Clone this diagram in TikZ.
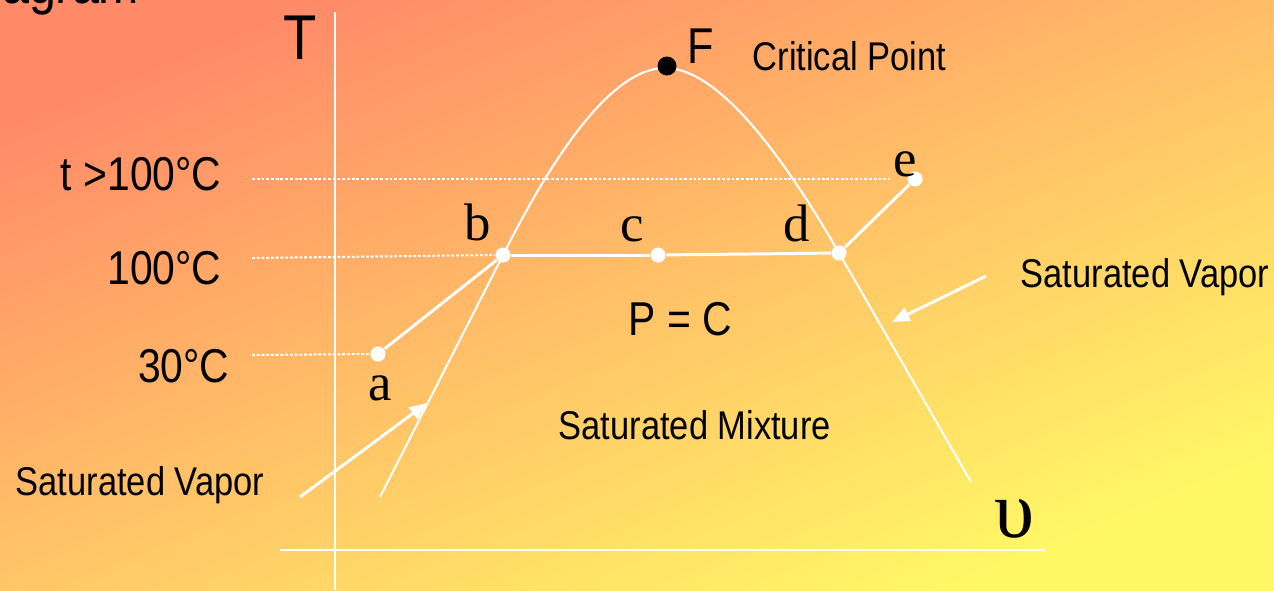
\documentclass[tikz,border=0pt]{standalone}
\usepackage{fontspec}
\setmainfont{Liberation Serif}
\newfontfamily\labfont[FakeStretch=0.86]{Liberation Sans}
\usetikzlibrary{arrows.meta,positioning}
\definecolor{salmon}{RGB}{255,138,104}
\definecolor{amber}{RGB}{255,210,98}
\definecolor{lemon}{RGB}{255,248,102}

\begin{document}
\begin{tikzpicture}[x=0.01cm,y=-0.01cm,
  lab/.style={font=\labfont\fontsize{11.4}{13}\selectfont, inner sep=0pt, anchor=base west},
  temp/.style={font=\labfont\fontsize{13.5}{16}\selectfont, inner sep=0pt, anchor=base east},
  ltr/.style={font=\fontsize{15}{18}\selectfont, inner sep=0pt, anchor=base},
  wdot/.style={circle, fill=white, inner sep=0pt, minimum size=4.3pt},
  proc/.style={white, line width=0.85pt},
  dome/.style={white, line width=0.6pt},
  guide/.style={white, line width=0.57pt, dash pattern=on 0.8pt off 0.55pt},
  arr/.style={white, line width=0.85pt, -{Triangle[length=5pt,width=4pt]}}]
\shade[left color=salmon, middle color=amber, right color=lemon, shading angle=22] (0,0) rectangle (1274,590);
\useasboundingbox (0,0) rectangle (1274,590);
\node[lab, font=\labfont\fontsize{16}{19}\selectfont, anchor=base east] (ttl) at (140,3) {Diagram};
\coordinate (ytop) at (335,12);
\coordinate (ybot) at (335,590);
\coordinate (xl) at (280,550);
\coordinate (xr) at (1045,550);
\draw[dome] (ybot) -- (ytop);
\draw[dome] (xl) -- (xr);
\node[lab, font=\labfont\fontsize{18}{21}\selectfont] (T) at (283,59) {T};
\node[ltr, font=\fontsize{23}{26}\selectfont] (v) at (1014,537) {υ};
\node[wdot] (pa) at (378,354) {};
\node[wdot] (pb) at (503,255) {};
\node[wdot] (pc) at (658,255) {};
\node[wdot] (pd) at (839,253) {};
\node[wdot] (pe) at (915,179) {};
\node[ltr] (la) at (380,400) {a};
\node[ltr] (lb) at (478,240) {b};
\node[ltr] (lc) at (632,241) {c};
\node[ltr] (ld) at (797,241) {d};
\node[ltr] (le) at (905,176) {e};
\node[temp] (t3) at (222,190) {t >100°C};
\node[temp] (t2) at (222,284) {100°C};
\node[temp] (t1) at (230,382) {30°C};
\coordinate (g3) at (252,179);
\coordinate (g3e) at (890,179);
\coordinate (g2) at (252,258);
\coordinate (g1) at (252,355);
\draw[guide] (g3) -- (g3e);
\draw[guide] (g2) -- (pb.west);
\draw[guide] (g1) -- (pa.west);
\draw[proc] (pa) -- (pb);
\draw[proc] (pb) -- (pc);
\draw[proc] (pc) -- (pd);
\draw[proc] (pd) -- (pe);
\coordinate (dl) at (380,497);
\coordinate (dr) at (971,482);
\coordinate (top) at (665,68);
\draw[dome] (dl) -- (pb.center) .. controls (566,130) and (620,68) .. (top)
  .. controls (710,68) and (768,130) .. (pd.center) -- (dr);
\node[circle, fill=black, inner sep=0pt, minimum size=5.4pt] (F) at (667,66) {};
\node[lab, font=\labfont\fontsize{14.3}{17}\selectfont] (lF) at (687,63) {F};
\node[lab] (cp) at (752,70) {Critical Point};
\node[lab, font=\labfont\fontsize{13.5}{16}\selectfont] (pcst) at (628,335) {P = C};
\node[lab] (mix) at (558,439) {Saturated Mixture};
\node[lab] (svl) at (15,495) {Saturated Vapor};
\node[lab] (svr) at (1020,287) {Saturated Vapor};
\coordinate (al) at (300,497);
\coordinate (alt) at (427,403);
\coordinate (ar) at (986,276);
\coordinate (art) at (892,322);
\draw[arr] (al) -- (alt);
\draw[arr] (ar) -- (art);
\end{tikzpicture}
\end{document}
